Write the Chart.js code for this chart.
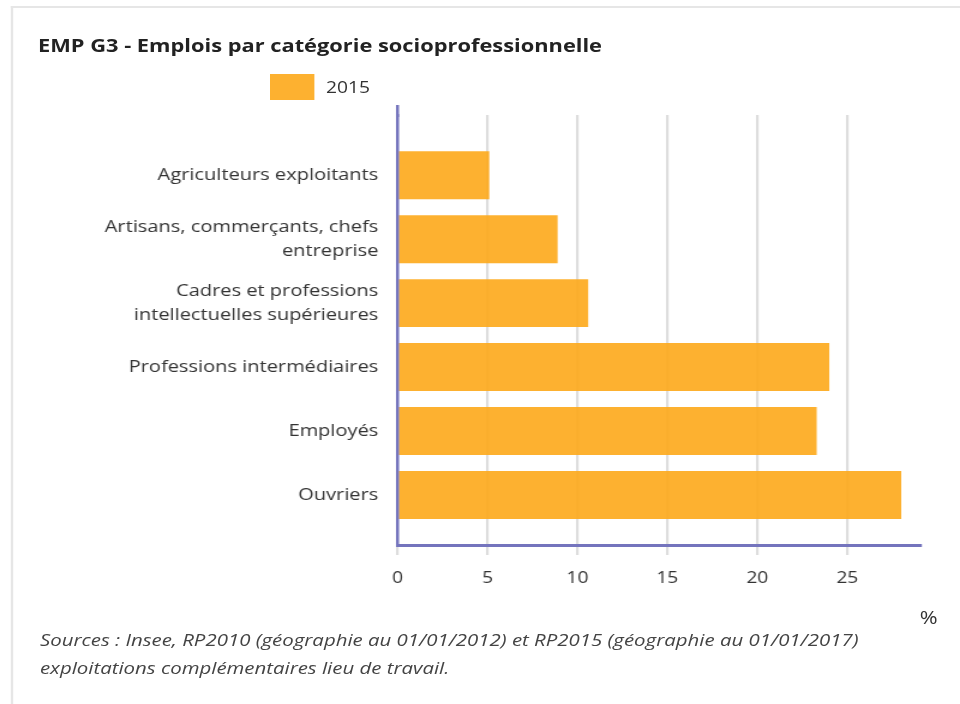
<!DOCTYPE html>
<html lang="fr">
<head>
<meta charset="utf-8">
<title>EMP G3 - Emplois par catégorie socioprofessionnelle</title>
<script src="https://cdn.jsdelivr.net/npm/chart.js@4/dist/chart.umd.min.js"></script>
<style>
  html, body { margin: 0; padding: 0; background: #fff; }
  body { width: 960px; height: 704px; position: relative; overflow: hidden; font-family: "Open Sans", sans-serif; color: #333; }
  /* The whole figure is laid out on an 800px-wide sheet, widened to 960px */
  .sheet { position: absolute; left: 0; top: 0; width: 800px; height: 704px; transform: scaleX(1.2); transform-origin: 0 0; }
  .frame { position: absolute; left: 8.5px; top: 6px; width: 820px; height: 720px; border-left: 2px solid #e6e6e6; border-top: 2px solid #e6e6e6; }
  .title { position: absolute; left: 31.7px; top: 33px; font-size: 18.2px; font-weight: 700; color: #222; white-space: nowrap; line-height: 24px; }
  .legend { position: absolute; left: 225px; top: 74px; display: flex; align-items: center; font-size: 16px; color: #333; line-height: 26px; }
  .legend .swatch { width: 36.7px; height: 26px; margin-right: 10px; }
  .unit { position: absolute; left: 766.5px; top: 603px; font-size: 18px; color: #333; line-height: 28px; }
  .source { position: absolute; left: 33.3px; top: 626px; font-size: 17px; font-style: italic; color: #444; line-height: 28px; white-space: nowrap; }
  .chart-box { position: absolute; left: 0; top: 0; width: 800px; height: 704px; }
</style>
</head>
<body>
<div class="sheet">
  <div class="frame"></div>
  <div class="chart-box"><canvas id="chart"></canvas></div>
  <div class="title">EMP G3 - Emplois par catégorie socioprofessionnelle</div>
  <div class="legend" id="legend"></div>
  <div class="unit">%</div>
  <div class="source">Sources : Insee, RP2010 (géographie au 01/01/2012) et RP2015 (géographie au 01/01/2017)<br>exploitations complémentaires lieu de travail.</div>
</div>
<script>
// Catégories socioprofessionnelles (libellés sur deux lignes si besoin)
const categories = [
  'Agriculteurs exploitants',
  ['Artisans, commerçants, chefs', 'entreprise'],
  ['Cadres et professions', 'intellectuelles supérieures'],
  'Professions intermédiaires',
  'Employés',
  'Ouvriers'
];
// Part des emplois en 2015 (%)
const seriesLabel = '2015';
const values2015 = [5.1, 8.9, 10.6, 24.0, 23.3, 28.0];
// Graduations de l'axe des valeurs
const xTicks = [0, 5, 10, 15, 20, 25];

const barFill = 'rgba(253, 169, 25, 0.9)';
const axisColor = '#7474bd';

// Légende HTML construite à partir de la série
const legend = document.getElementById('legend');
legend.innerHTML = '<span class="swatch" style="background:' + barFill + '"></span><span>' + seriesLabel + '</span>';

// Prolonge l'axe vertical légèrement au-dessus de la zone de tracé
const axisExtension = {
  id: 'axisExtension',
  afterDraw(chart) {
    const { ctx, chartArea } = chart;
    ctx.save();
    ctx.strokeStyle = axisColor;
    ctx.lineWidth = 2.5;
    ctx.beginPath();
    ctx.moveTo(chartArea.left, chartArea.top - 10);
    ctx.lineTo(chartArea.left, chartArea.top + 2);
    ctx.stroke();
    ctx.restore();
  }
};

new Chart(document.getElementById('chart'), {
  type: 'bar',
  data: {
    datasets: [{
      label: seriesLabel,
      data: values2015.map((v, i) => ({ x: v, y: i })),
      backgroundColor: barFill,
      borderWidth: 0,
      categoryPercentage: 1,
      barPercentage: 0.75
    }]
  },
  options: {
    indexAxis: 'y',
    responsive: true,
    maintainAspectRatio: false,
    animation: false,
    layout: { padding: { left: 0, right: 32.5, top: 115, bottom: 109 } },
    plugins: { legend: { display: false }, tooltip: { enabled: false } },
    scales: {
      x: {
        type: 'linear',
        position: 'bottom',
        min: 0,
        max: 29.1,
        afterBuildTicks: (scale) => { scale.ticks = xTicks.map(v => ({ value: v })); },
        afterFit: (scale) => { scale.height = 50; },
        grid: { color: '#dddddd', lineWidth: 2.2, tickLength: 10 },
        border: { display: true, color: axisColor, width: 3, z: 1 },
        ticks: { color: '#333', font: { family: 'Open Sans', size: 16 }, padding: 14, maxRotation: 0 }
      },
      y: {
        type: 'linear',
        reverse: true,
        offset: false,
        min: -0.94,
        max: 5.78,
        afterBuildTicks: (scale) => { scale.ticks = categories.map((_, i) => ({ value: i })); },
        afterFit: (scale) => { scale.width = 331.25; },
        grid: { display: false, drawTicks: false, offset: false },
        border: { display: true, color: axisColor, width: 2.5, z: 1 },
        ticks: {
          color: '#333',
          font: { family: 'Open Sans', size: 16.7, lineHeight: 1.44 },
          padding: 16,
          callback: (value) => categories[value]
        }
      }
    }
  },
  plugins: [axisExtension]
});
</script>
</body>
</html>
